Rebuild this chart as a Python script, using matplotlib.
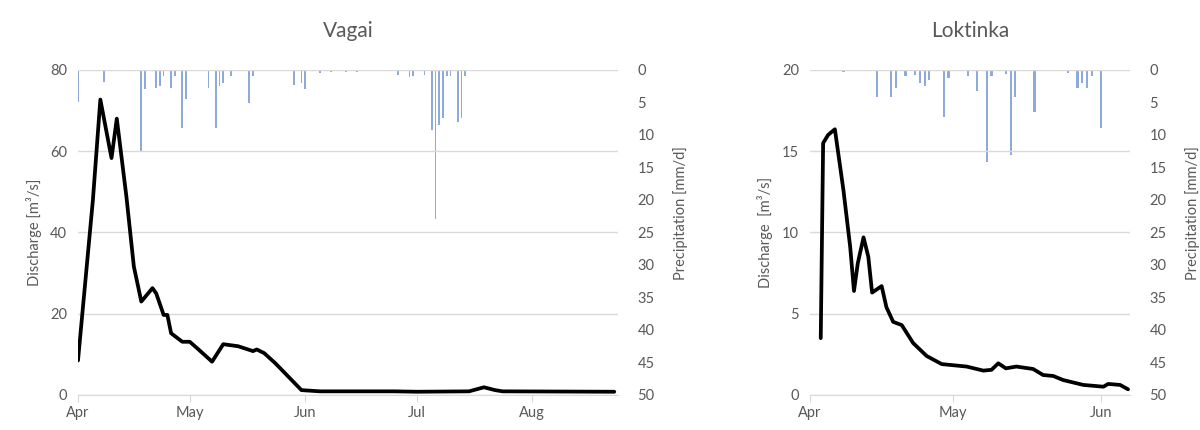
import matplotlib
matplotlib.use("Agg")
import matplotlib.pyplot as plt
import matplotlib.dates as mdates
import pandas as pd

plt.rcParams['font.family'] = ['Lato', 'DejaVu Sans']

# Vagai - daily discharge (m3/s)
vagai_q_dates = ['04-01', '04-05', '04-07', '04-10', '04-11 10:00', '04-14', '04-16', '04-18',
                 '04-21', '04-22', '04-24', '04-25', '04-26', '04-29', '05-01', '05-03',
                 '05-07', '05-10', '05-14', '05-18', '05-19', '05-21', '05-24', '05-31',
                 '06-05', '06-25', '07-01', '07-15', '07-19', '07-22', '07-24', '08-23']
vagai_q = [8.5, 48, 72.7, 58.3, 68, 48.8, 31.6, 23,
           26.3, 25, 19.7, 19.7, 15.2, 13.1, 13.1, 11.5,
           8.2, 12.5, 12, 10.8, 11.2, 10.3, 7.8, 1.2,
           0.9, 0.9, 0.8, 0.9, 1.9, 1.2, 0.9, 0.8]

# Vagai - precipitation (mm/d)
vagai_p_dates = ['04-01', '04-08', '04-18', '04-19', '04-22', '04-23', '04-24', '04-26', '04-27',
                 '04-29', '04-30', '05-06', '05-08', '05-09', '05-10', '05-12', '05-17', '05-18',
                 '05-29', '05-31', '06-01', '06-05', '06-08', '06-12', '06-15', '06-26', '06-29',
                 '06-30', '07-03', '07-05', '07-06', '07-07', '07-08', '07-09', '07-10', '07-12',
                 '07-13', '07-14']
vagai_p = [5.0, 1.8, 12.6, 3.0, 2.8, 2.5, 1.0, 2.8, 1.0,
           9.0, 4.4, 2.8, 9.0, 2.5, 2.0, 1.0, 5.1, 1.0,
           2.3, 2.0, 3.0, 0.5, 0.3, 0.3, 0.3, 0.8, 1.1,
           1.0, 0.8, 9.2, 23.0, 8.5, 7.4, 1.0, 1.0, 8.0,
           7.4, 1.0]

# Loktinka - discharge (m3/s)
lokt_q_dates = ['04-03 06:00', '04-03 18:00', '04-04 19:00', '04-06 05:00', '04-08', '04-09 10:00',
                '04-10 05:00', '04-11', '04-12 05:00', '04-13 05:00', '04-14', '04-16', '04-17',
                '04-18 10:00', '04-20 05:00', '04-22 14:00', '04-25 10:00', '04-28 14:00',
                '05-03 19:00', '05-07 07:00', '05-09', '05-10 10:00', '05-12', '05-14 05:00',
                '05-17 17:00', '05-19 19:00', '05-21 22:00', '05-24', '05-28 05:00',
                '06-01 10:00', '06-02 10:00', '06-04 22:00', '06-06 14:00']
lokt_q = [3.5, 15.5, 16.0, 16.35, 12.6, 9.1,
          6.4, 8.1, 9.7, 8.5, 6.3, 6.7, 5.4,
          4.5, 4.3, 3.2, 2.4, 1.9,
          1.75, 1.5, 1.55, 1.95, 1.64, 1.75,
          1.6, 1.23, 1.17, 0.92, 0.62,
          0.51, 0.68, 0.62, 0.35]

# Loktinka - precipitation (mm/d)
lokt_p_dates = ['04-08', '04-15', '04-18', '04-19', '04-21', '04-23', '04-24', '04-25', '04-26',
                '04-29', '04-30', '05-04', '05-06', '05-08', '05-09', '05-12', '05-13', '05-14',
                '05-18', '05-25', '05-27', '05-28', '05-29', '05-30', '06-01']
lokt_p = [0.3, 4.1, 4.1, 2.8, 1.0, 0.8, 2.0, 2.5, 1.5,
          7.2, 1.2, 1.0, 3.3, 14.1, 1.0, 0.7, 13.1, 4.1,
          6.4, 0.5, 2.8, 2.0, 2.8, 1.0, 9.0]


def to_dt(lst):
    return pd.to_datetime(['2019-' + s for s in lst], format='mixed')


TXT = '#595959'
GRID = '#d9d9d9'
BAR = '#8eaadb'

fig = plt.figure(figsize=(12, 4.3), dpi=100)


def panel(rect, title, qd, q, pd_, p, qmax, qstep, xend, lab):
    ax = fig.add_axes(rect)
    ax2 = ax.twinx()
    ax2.bar(to_dt(pd_), p, width=0.45, color=BAR, linewidth=0)
    ax2.set_ylim(50, 0)
    ax2.set_yticks(range(0, 51, 5))

    ax.plot(to_dt(qd), q, color='black', lw=2.7, solid_joinstyle='round', solid_capstyle='round')
    ax.set_ylim(0, qmax)
    ax.set_yticks(range(0, qmax + 1, qstep))
    ax.set_xlim(pd.Timestamp('2019-04-01'), pd.Timestamp(xend))
    ax.xaxis.set_major_locator(mdates.MonthLocator())
    ax.xaxis.set_major_formatter(mdates.DateFormatter('%b'))
    ax.grid(axis='y', color=GRID, lw=1)
    ax.set_axisbelow(True)
    ax.set_zorder(ax2.get_zorder() + 1)
    ax.patch.set_visible(False)

    for a in (ax, ax2):
        for s in a.spines.values():
            s.set_visible(False)
    ax.spines['bottom'].set_visible(True)
    ax.spines['bottom'].set_color(GRID)
    ax.tick_params(axis='x', colors=TXT, length=5, color=GRID, labelsize=10.5, pad=3)
    ax.tick_params(axis='y', colors=TXT, length=0, labelsize=10.5, pad=8)
    ax2.tick_params(axis='y', colors=TXT, length=0, labelsize=10.5, pad=14)

    ax.set_ylabel(lab, color=TXT, fontsize=10.5, labelpad=6)
    ax2.set_ylabel('Precipitation [mm/d]', color=TXT, fontsize=10.5, labelpad=8)
    ax2.yaxis.set_label_coords(1.0 + 55 / (rect[2] * 1200), 0.56)
    ax.set_title(title, color=TXT, fontsize=15, pad=24)


panel([0.065, 0.0814, 0.45, 0.756], 'Vagai', vagai_q_dates, vagai_q, vagai_p_dates, vagai_p,
      80, 20, '2019-08-24', 'Discharge [m³/s]')
panel([0.675, 0.0814, 0.2667, 0.756], 'Loktinka', lokt_q_dates, lokt_q, lokt_p_dates, lokt_p,
      20, 5, '2019-06-07', 'Discharge  [m³/s]')

fig.savefig('out.png', dpi=100)
